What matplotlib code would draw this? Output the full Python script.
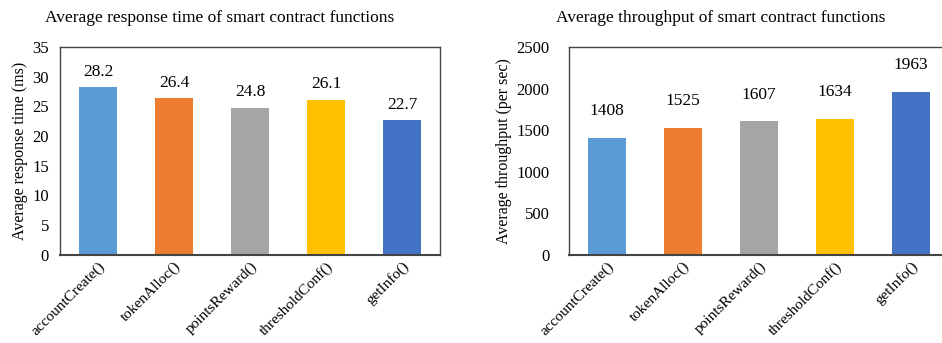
import matplotlib.pyplot as plt
import numpy as np

functions = ['accountCreate()', 'tokenAlloc()', 'pointsReward()', 'thresholdConf()', 'getInfo()']
response_ms = [28.2, 26.4, 24.8, 26.1, 22.7]
throughput = [1408, 1525, 1607, 1634, 1963]
colors = ['#5B9BD5', '#ED7D31', '#A5A5A5', '#FFC000', '#4472C4']

plt.rcParams['font.family'] = ['Liberation Serif', 'DejaVu Serif']

fig = plt.figure(figsize=(9.42, 3.43), dpi=100)
ax1 = fig.add_axes([0.0637, 0.257, 0.4034, 0.606])
ax2 = fig.add_axes([0.604, 0.257, 0.4034, 0.606])

x = np.arange(len(functions))


def draw(ax, vals, ymax, step, ylabel, fmt, off, pad):
    ax.bar(x, vals, width=0.51, color=colors, zorder=2)
    for xi, v in zip(x, vals):
        ax.text(xi, v + off, fmt.format(v), ha='center', va='center', fontsize=12.5)
    ax.set_xlim(-0.5, len(vals) - 0.5)
    ax.set_ylim(0, ymax)
    ax.set_yticks(np.arange(0, ymax + step / 2, step))
    ax.set_xticks(x)
    ax.set_xticklabels(functions, rotation=45, ha='right', rotation_mode='anchor', fontsize=11)
    ax.tick_params(axis='y', length=0, labelsize=12, pad=pad)
    ax.tick_params(axis='x', length=0, pad=3)
    ax.set_ylabel(ylabel, fontsize=11.5, labelpad=3)
    for s in ax.spines.values():
        s.set_color('#444444')
        s.set_linewidth(1.0)
    ax.spines['bottom'].set_linewidth(1.5)


draw(ax1, response_ms, 35, 5, 'Average response time (ms)', '{:.1f}', 2.6, 8)
draw(ax2, throughput, 2500, 500, 'Average throughput (per sec)', '{:d}', 320, 14)

fig.text(0.233, 0.948, 'Average response time of smart contract functions', ha='center', va='center', fontsize=12.5)
fig.text(0.765, 0.948, 'Average throughput of smart contract functions', ha='center', va='center', fontsize=12.5)

fig.savefig('out.png', dpi=100)
